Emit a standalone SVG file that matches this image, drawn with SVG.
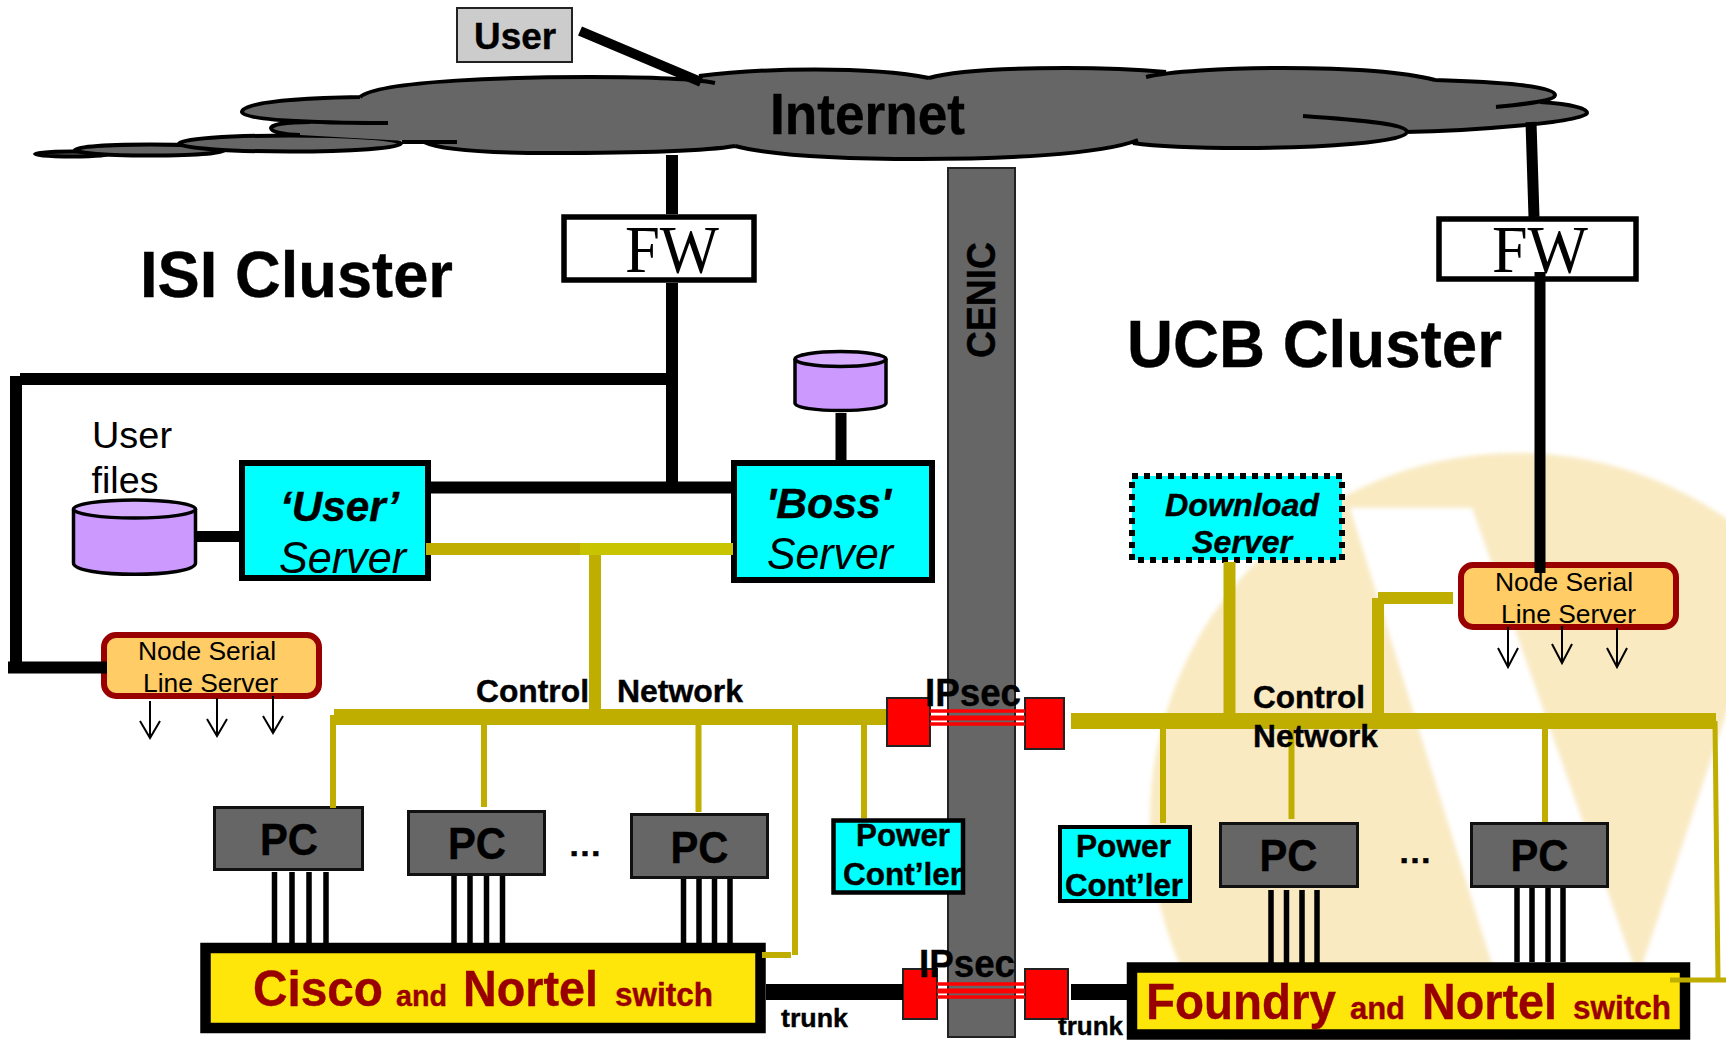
<svg xmlns="http://www.w3.org/2000/svg" width="1726" height="1040" viewBox="0 0 1726 1040">
<style>
text{font-family:"Liberation Sans",Arial,sans-serif;fill:#000}
.b{font-weight:bold;stroke:#000;stroke-width:.4}
.i{font-style:italic}
.s{font-family:"Liberation Serif","Times New Roman",serif}
.dr{fill:#990000;font-weight:bold;stroke:#990000;stroke-width:.4}
.pc{fill:#666;stroke:#111;stroke-width:3}
.cy{fill:#0ff;stroke:#000}
.fw{fill:#fff;stroke:#000;stroke-width:5.5}
.red{fill:#f00;stroke:#222;stroke-width:2}
.nsl{fill:#FFCC66;stroke:#990000;stroke-width:6}
.sw{fill:#FFE60A;stroke:#000;stroke-width:10.5}
.k{stroke:#000;fill:none}
.o{stroke:#BFAD00;fill:none}
.r{stroke:#f00;fill:none}
.a{stroke:#000;fill:none;stroke-width:2}
.cyl{fill:#CC99FF;stroke:#000;stroke-width:3.5}
.cylt{fill:#D6ADFF;stroke:#000;stroke-width:3.5}
.cl{fill:#666;stroke:#000;stroke-width:4}
.cs{fill:none;stroke:#000;stroke-width:4}
</style>
<defs><filter id="soft" x="-5%" y="-5%" width="110%" height="110%"><feGaussianBlur stdDeviation="2"/></filter></defs>
<rect width="1726" height="1040" fill="#fff"/>
<g id="logo" filter="url(#soft)">
<circle cx="1517" cy="820" r="367" fill="#F9EAC2"/>
<polygon points="1350,508 1472,508 1638,978 1740,673 1740,1060 1522,1060" fill="#fff"/>
</g>
<g id="cenic"><rect x="948" y="168" width="67" height="869" fill="#666" stroke="#222" stroke-width="2"/>
<text class="b" transform="translate(995,358) rotate(-90)" font-size="40" textLength="116" lengthAdjust="spacingAndGlyphs">CENIC</text></g>
<g id="internet">
<ellipse cx="72" cy="154" rx="37" ry="2.5" class="cl"/>
<ellipse cx="150" cy="150" rx="75" ry="5.5" class="cl"/>
<ellipse cx="290" cy="143.500" rx="111" ry="8" class="cl"/>
<path fill="#666" d="M360 97C380 80 520 77 590 77C640 77 670 78 699 76C760 68 870 66 929 78C970 66 1100 66 1166 72L1146 77C1190 66 1370 63 1435 80C1500 82 1555 86 1555 95L1540 102C1570 104 1587 108 1587 113C1587 122 1470 131 1405 132C1407 142 1320 148 1243 148C1200 148 1160 147 1133 143C1100 155 1000 159 920 159C840 159 770 155 735 146C700 152 620 153 550 153C480 153 440 150 424 142L300 135C285 135 271 132 271 128C271 125 285 122 310 122L388 123C310 123 242 120 242 112C242 102 300 98 360 97Z"/>
<path class="cs" d="M360 97C380 80 520 77 590 77C640 77 690 78 715 83M699 76C760 68 870 66 929 78M929 78C970 66 1100 66 1166 72M1146 77C1190 66 1370 63 1435 80M1435 80C1500 82 1555 86 1555 95C1555 101 1525 104 1496 107M1540 102C1570 104 1587 108 1587 113C1587 122 1470 131 1405 132M1303 116C1360 120 1407 124 1407 132C1407 142 1320 148 1243 148C1200 148 1160 147 1133 143M1138 140C1100 155 1000 159 920 159C840 159 770 155 735 146M735 146C700 152 620 153 550 153C480 153 440 150 424 142M402 142H457M360 97C300 98 242 102 242 112C242 120 310 123 388 123M310 122C285 122 271 125 271 128C271 132 285 135 300 135"/>
<text class="b" x="770" y="134" font-size="58" textLength="195" lengthAdjust="spacingAndGlyphs">Internet</text></g>
<g id="user"><rect x="457" y="8" width="115" height="54" fill="#ccc" stroke="#222" stroke-width="2"/>
<text class="b" x="474" y="49" font-size="36" textLength="82" lengthAdjust="spacingAndGlyphs">User</text></g>
<g id="fw1"><rect class="fw" x="564" y="217" width="190" height="63"/>
<text class="s" x="625" y="272" font-size="68" textLength="94" lengthAdjust="spacingAndGlyphs">FW</text></g>
<g id="fw2"><rect class="fw" x="1439" y="219" width="197" height="60"/>
<text class="s" x="1492" y="272" font-size="68" textLength="96" lengthAdjust="spacingAndGlyphs">FW</text></g>
<g id="user-files"><path class="cyl" d="M73.500 509V563C73.500 578 195.500 578 195.500 563V509"/><ellipse class="cylt" cx="134.500" cy="509" rx="61" ry="9"/>
<text x="92" y="448" font-size="36" textLength="80" lengthAdjust="spacingAndGlyphs">User</text>
<text x="91.500" y="493" font-size="36" textLength="67" lengthAdjust="spacingAndGlyphs">files</text></g>
<g id="boss-disk"><path class="cyl" d="M795 359V403C795 413 886 413 886 403V359"/><ellipse class="cylt" cx="840.500" cy="359" rx="45.500" ry="7.500"/></g>
<g id="user-server"><rect class="cy" stroke-width="6" x="242" y="463" width="186" height="115"/>
<text class="b i" x="280" y="521" font-size="43" textLength="119" lengthAdjust="spacingAndGlyphs">‘User’</text>
<text class="i" x="279" y="573" font-size="44" textLength="127" lengthAdjust="spacingAndGlyphs">Server</text></g>
<g id="boss-server"><rect class="cy" stroke-width="6" x="734" y="463" width="198" height="117"/>
<text class="b i" x="766" y="518" font-size="43" textLength="125" lengthAdjust="spacingAndGlyphs">'Boss'</text>
<text class="i" x="767" y="569" font-size="44" textLength="126" lengthAdjust="spacingAndGlyphs">Server</text></g>
<g id="download-server"><rect class="cy" stroke-width="6" stroke-dasharray="6 6" x="1132" y="476" width="210" height="84"/>
<text class="b i" x="1165" y="516" font-size="32" textLength="154" lengthAdjust="spacingAndGlyphs">Download</text>
<text class="b i" x="1192" y="553" font-size="32" textLength="100" lengthAdjust="spacingAndGlyphs">Server</text></g>
<g id="nsl-left"><rect class="nsl" x="104" y="635" width="215" height="61" rx="12"/>
<text x="138" y="660" font-size="26.500" textLength="138" lengthAdjust="spacingAndGlyphs">Node Serial</text>
<text x="143" y="692" font-size="26.500" textLength="135" lengthAdjust="spacingAndGlyphs">Line Server</text></g>
<g id="nsl-right"><rect class="nsl" x="1461" y="565" width="215" height="62" rx="12"/>
<text x="1495" y="591" font-size="26.500" textLength="138" lengthAdjust="spacingAndGlyphs">Node Serial</text>
<text x="1501" y="623" font-size="26.500" textLength="135" lengthAdjust="spacingAndGlyphs">Line Server</text></g>
<g id="pc1"><rect class="pc" x="214.500" y="807.500" width="148" height="62"/><text class="b" x="260" y="855" font-size="44" textLength="58" lengthAdjust="spacingAndGlyphs">PC</text></g>
<g id="pc2"><rect class="pc" x="408.500" y="811.500" width="136" height="63"/><text class="b" x="448" y="859" font-size="44" textLength="58" lengthAdjust="spacingAndGlyphs">PC</text></g>
<g id="pc3"><rect class="pc" x="631.500" y="814.500" width="136" height="63"/><text class="b" x="670.500" y="863" font-size="44" textLength="58" lengthAdjust="spacingAndGlyphs">PC</text></g>
<g id="pc4"><rect class="pc" x="1220.500" y="823.500" width="137" height="63"/><text class="b" x="1259.500" y="871" font-size="44" textLength="58" lengthAdjust="spacingAndGlyphs">PC</text></g>
<g id="pc5"><rect class="pc" x="1471.500" y="823.500" width="136" height="63"/><text class="b" x="1510.500" y="871" font-size="44" textLength="58" lengthAdjust="spacingAndGlyphs">PC</text></g>
<g id="power-left"><rect class="cy" stroke-width="4.500" x="833.500" y="820.500" width="129.500" height="72"/>
<text class="b" x="856" y="846" font-size="31" textLength="94" lengthAdjust="spacingAndGlyphs">Power</text>
<text class="b" x="843" y="885" font-size="31" textLength="119" lengthAdjust="spacingAndGlyphs">Cont’ler</text></g>
<g id="power-right"><rect class="cy" stroke-width="4" x="1060" y="827" width="130" height="74"/>
<text class="b" x="1076" y="857" font-size="31" textLength="95" lengthAdjust="spacingAndGlyphs">Power</text>
<text class="b" x="1065" y="896" font-size="31" textLength="118" lengthAdjust="spacingAndGlyphs">Cont’ler</text></g>
<g id="switch-left"><rect class="sw" x="205.500" y="948" width="555" height="80"/>
<text class="dr" x="253" y="1006" font-size="50" textLength="130" lengthAdjust="spacingAndGlyphs">Cisco</text>
<text class="dr" x="396" y="1006" font-size="30" textLength="51" lengthAdjust="spacingAndGlyphs">and</text>
<text class="dr" x="463" y="1006" font-size="50" textLength="135" lengthAdjust="spacingAndGlyphs">Nortel</text>
<text class="dr" x="615" y="1006" font-size="33" textLength="98" lengthAdjust="spacingAndGlyphs">switch</text></g>
<g id="switch-right"><rect class="sw" x="1132" y="967.500" width="553" height="67"/>
<text class="dr" x="1146" y="1019" font-size="50" textLength="190" lengthAdjust="spacingAndGlyphs">Foundry</text>
<text class="dr" x="1350" y="1019" font-size="31" textLength="55" lengthAdjust="spacingAndGlyphs">and</text>
<text class="dr" x="1422" y="1019" font-size="50" textLength="135" lengthAdjust="spacingAndGlyphs">Nortel</text>
<text class="dr" x="1573" y="1019" font-size="33" textLength="98" lengthAdjust="spacingAndGlyphs">switch</text></g>
<g id="ipsec-boxes">
<rect class="red" x="887" y="698" width="43" height="48"/><rect class="red" x="1025" y="698" width="39" height="51"/>
<rect class="red" x="903" y="969" width="34" height="50"/><rect class="red" x="1025" y="969" width="43" height="50"/>
</g>
<g id="connectors">
<g class="k">
<path stroke-width="10" d="M580 31L701 82"/>
<path stroke-width="12" d="M672 155V214M672 283V493M431 487.500H733M672 379H20M16 376V673M8 667.500H107"/>
<path stroke-width="11" d="M1531 122L1534 217M1540 272V573M197 536.500H240M841 413V461"/>
<path stroke-width="5.500" d="M274.500 872V945M292 872V945M309 872V945M326 872V945M454 876V945M470 876V945M486.500 876V945M502.500 876V945M683.500 879V945M699 879V945M714.500 879V945M730 879V945M1271 890V972M1286.500 890V972M1302 890V972M1317 890V972M1517 888V962M1532 888V962M1548 888V962M1563 888V962"/>
<path stroke-width="16" d="M766 992H903M1071 992H1130"/>
</g>
<g class="o">
<path stroke-width="12" d="M426 549H580M595 549V710M1229.500 562V716M1378 598H1453M1378 598V716"/>
<path style="stroke:#C8C400" stroke-width="12" d="M580 549H733"/>
<path stroke-width="16" d="M334 717H886M1071 721H1716"/>
<path stroke-width="6" d="M333 715V808M484 725V807M698.500 725V812M795 725V955M762 955H791M864 725V818M1163 729V823M1291.500 729V819M1545 729V822"/>
<path stroke-width="5" d="M1715 721L1718 979M1670 980H1726"/>
</g>
<g class="r">
<path stroke-width="3.500" d="M930 711H1025M937 984H1025M930 724H1025M937 997H1025"/>
<path stroke-width="5" d="M930 718H1025M937 991H1025"/>
</g>
<g class="a">
<path d="M150 701V738M140 721L150 738L160 721M217 698V736M207 719L217 736L227 719M273 696V733M263 716L273 733L283 716"/>
<path d="M1508 627V667M1498 648L1508 667L1518 648M1562 626V663M1552 644L1562 663L1572 644M1617 628V667M1607 648L1617 667L1627 648"/>
</g>
</g>
<g id="labels">
<text class="b" x="140" y="297" font-size="65" textLength="313" lengthAdjust="spacingAndGlyphs">ISI Cluster</text>
<text class="b" x="1127" y="367" font-size="66" textLength="375" lengthAdjust="spacingAndGlyphs">UCB Cluster</text>
<text class="b" x="476" y="702" font-size="31" textLength="113" lengthAdjust="spacingAndGlyphs">Control</text>
<text class="b" x="617" y="702" font-size="31" textLength="126" lengthAdjust="spacingAndGlyphs">Network</text>
<text class="b" x="1253" y="708" font-size="31" textLength="112" lengthAdjust="spacingAndGlyphs">Control</text>
<text class="b" x="1253" y="747" font-size="31" textLength="125" lengthAdjust="spacingAndGlyphs">Network</text>
<text class="b" x="925" y="706" font-size="38" textLength="96" lengthAdjust="spacingAndGlyphs">IPsec</text>
<text class="b" x="919" y="977" font-size="38" textLength="96" lengthAdjust="spacingAndGlyphs">IPsec</text>
<text class="b" x="781" y="1027" font-size="26" textLength="67" lengthAdjust="spacingAndGlyphs">trunk</text>
<text class="b" x="1058" y="1034.500" font-size="25" textLength="65" lengthAdjust="spacingAndGlyphs">trunk</text>
<text class="b" x="568" y="856" font-size="32" textLength="34" lengthAdjust="spacingAndGlyphs">…</text>
<text class="b" x="1398" y="863" font-size="32" textLength="34" lengthAdjust="spacingAndGlyphs">…</text>
</g>
</svg>
